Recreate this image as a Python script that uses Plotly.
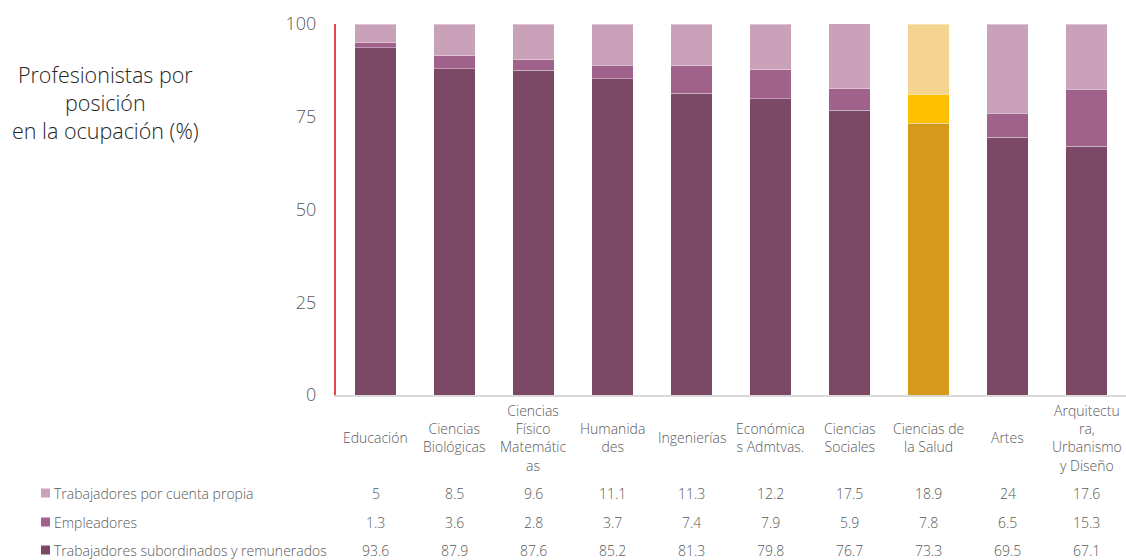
import plotly.graph_objects as go

categories = ["Educación", "Ciencias Biológicas", "Ciencias Físico Matemáticas", "Humanidades",
              "Ingenierías", "Económicas Admtvas.", "Ciencias Sociales", "Ciencias de la Salud",
              "Artes", "Arquitectura, Urbanismo y Diseño"]
cat_labels = ["Educación", "Ciencias<br>Biológicas", "Ciencias<br>Físico<br>Matemátic<br>as",
              "Humanida<br>des", "Ingenierías", "Económica<br>s Admtvas.", "Ciencias<br>Sociales",
              "Ciencias de<br>la Salud", "Artes", "Arquitectu<br>ra,<br>Urbanismo<br>y Diseño"]
subordinados = [93.6, 87.9, 87.6, 85.2, 81.3, 79.8, 76.7, 73.3, 69.5, 67.1]
empleadores = [1.3, 3.6, 2.8, 3.7, 7.4, 7.9, 5.9, 7.8, 6.5, 15.3]
cuenta_propia = [5, 8.5, 9.6, 11.1, 11.3, 12.2, 17.5, 18.9, 24, 17.6]
y_ticks = [0, 25, 50, 75, 100]

series = [
    ("Trabajadores subordinados y remunerados", subordinados, "#7B4866", "#D6991A"),
    ("Empleadores", empleadores, "#A0628A", "#FFC000"),
    ("Trabajadores por cuenta propia", cuenta_propia, "#C9A2BA", "#F5D48F"),
]
highlight = "Ciencias de la Salud"

font_family = "'Open Sans', sans-serif"
gray = "#595959"
small = dict(size=14, color=gray, family=font_family, weight=300)

W, H = 1126, 560
L, R, T, B = 336, 0, 24, 165
pw, ph = W - L - R, H - T - B


def px_x(x):
    return (x - L) / pw


def px_y(y):
    return (H - B - y) / ph


fig = go.Figure()
for name, vals, col, hcol in series:
    colors = [hcol if c == highlight else col for c in categories]
    fig.add_trace(go.Bar(x=categories, y=vals, name=name,
                         marker=dict(color=colors, line=dict(color="rgba(255,255,255,0.35)", width=1)),
                         width=0.52, showlegend=False, hoverinfo="x+y+name"))

annotations = []
shapes = []
for c, lab in zip(categories, cat_labels):
    annotations.append(dict(x=c, xref="x", y=px_y(438), yref="paper", text=lab, showarrow=False,
                            yanchor="middle", xanchor="center", align="center", font=small))

# data table rows (top to bottom)
rows = [("Trabajadores por cuenta propia", cuenta_propia, "#C9A2BA", 493),
        ("Empleadores", empleadores, "#A0628A", 522),
        ("Trabajadores subordinados y remunerados", subordinados, "#7B4866", 550)]
for name, vals, col, ypx in rows:
    shapes.append(dict(type="rect", xref="paper", yref="paper",
                       x0=px_x(41), x1=px_x(50), y0=px_y(ypx + 4.5), y1=px_y(ypx - 4.5),
                       fillcolor=col, line=dict(width=0)))
    annotations.append(dict(x=px_x(52), xref="paper", y=px_y(ypx), yref="paper", showarrow=False,
                            xanchor="left", yanchor="middle", text=name, font=small))
    for c, v in zip(categories, vals):
        annotations.append(dict(x=c, xref="x", y=px_y(ypx), yref="paper", showarrow=False,
                                xanchor="center", yanchor="middle", text=f"{v:g}", font=small))

annotations.append(dict(x=px_x(105), xref="paper", y=px_y(102), yref="paper", showarrow=False,
                        xanchor="center", yanchor="middle", align="center",
                        text="Profesionistas por<br>posición<br>en la ocupación (%)",
                        font=dict(size=21.5, color="#262626", family=font_family, weight=300)))

fig.update_layout(
    width=W, height=H, barmode="stack", bargap=0.48,
    margin=dict(l=L, r=R, t=T, b=B, autoexpand=False),
    plot_bgcolor="white", paper_bgcolor="white",
    font=dict(family=font_family, color=gray),
    annotations=annotations, shapes=shapes,
    xaxis=dict(showticklabels=False, showline=True, linecolor="#D9D9D9", linewidth=2,
               ticks="", range=[-0.5, 9.5]),
    yaxis=dict(range=[0, 100], tickvals=y_ticks, showgrid=False, zeroline=False,
               showline=True, linecolor="#E8454B", linewidth=2, ticks="",
               ticklabelstandoff=14,
               tickfont=dict(size=18, color=gray, family=font_family, weight=300)),
)
fig.write_html("out.html")
